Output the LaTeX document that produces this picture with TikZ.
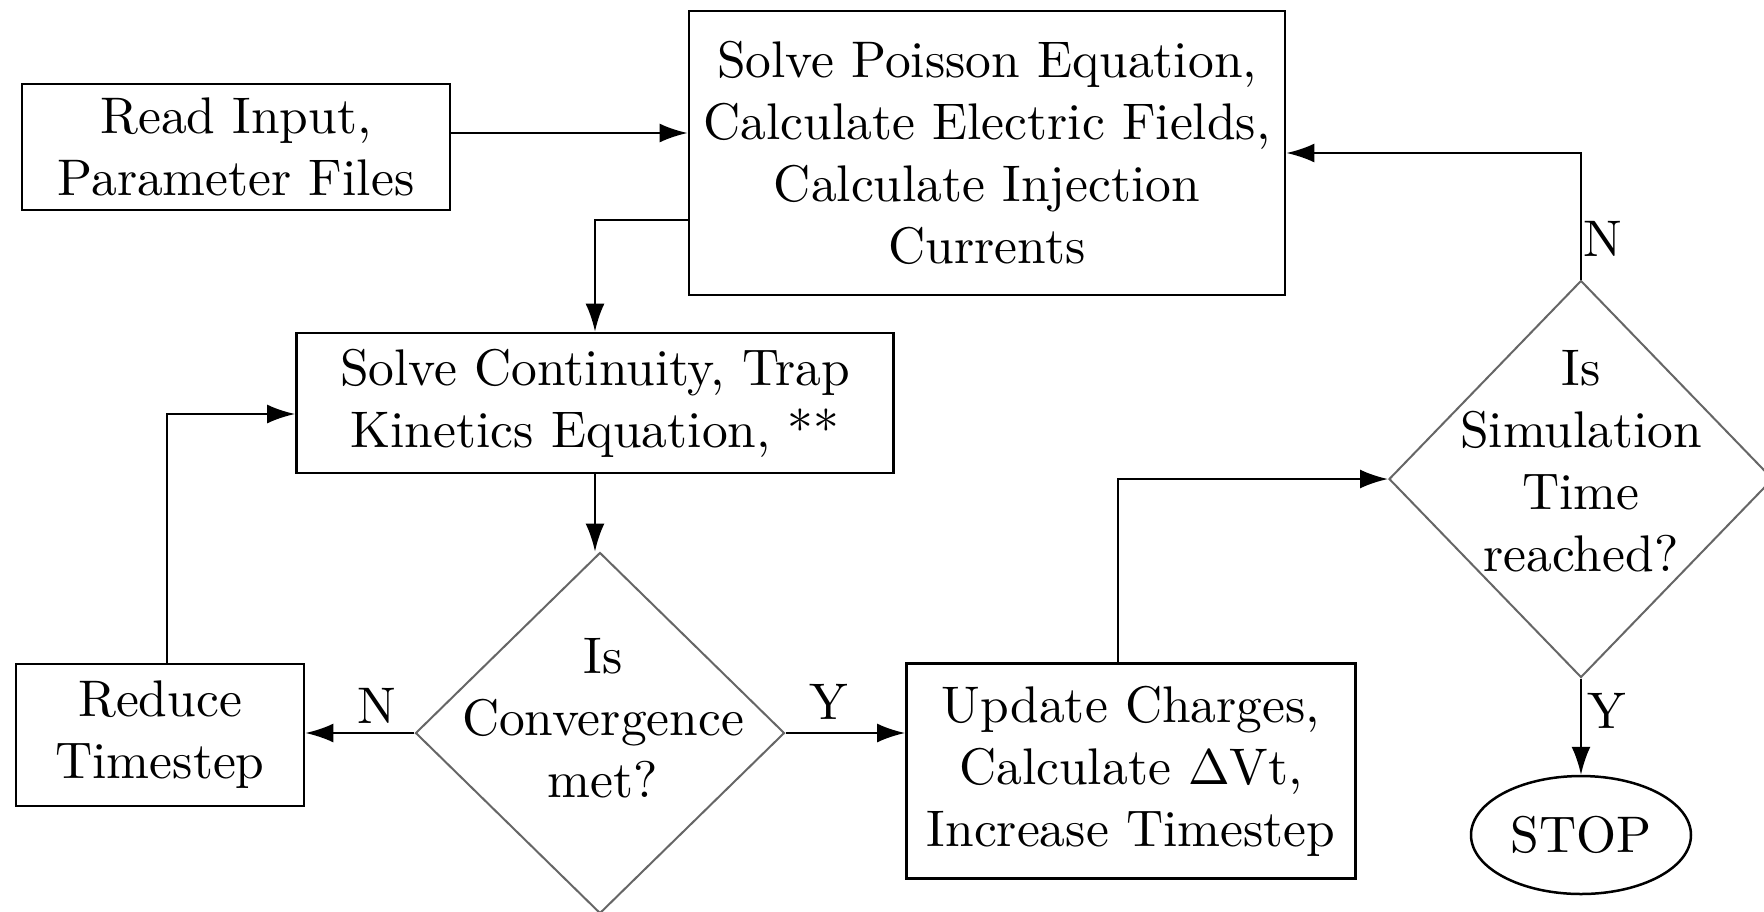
\documentclass[tikz,border=0pt]{standalone}
\usetikzlibrary{shapes.geometric,arrows.meta}
\begin{document}
\begin{tikzpicture}[x=0.2pt,y=-0.2pt,
  every node/.style={font=\fontsize{10.3}{12.4}\selectfont, align=center},
  box/.style={draw=black, line width=0.55pt, rectangle, inner sep=0pt},
  dia/.style={draw=black!60, line width=0.4pt, diamond, inner sep=0pt},
  oval/.style={draw=black, line width=0.5pt, ellipse, inner sep=0pt},
  arr/.style={draw=black, line width=0.47pt, -{Latex[length=5.6pt,width=3.8pt]}},
  lbl/.style={inner sep=0pt}]
\useasboundingbox (0,0) rectangle (1764,911);
\node[box, minimum width=85.6pt, minimum height=25.2pt] (read) at (236,147) {Read Input,\\Parameter Files};
\node[box, minimum width=119.2pt, minimum height=56.8pt] (poisson) at (987,153) {Solve Poisson Equation,\\Calculate Electric Fields,\\Calculate Injection\\Currents};
\node[box, minimum width=119.4pt, minimum height=28pt] (cont) at (595,403) {Solve Continuity, Trap\\Kinetics Equation, **};
\node[box, minimum width=57.6pt, minimum height=28.4pt] (reduce) at (160,735) {Reduce\\Timestep};
\node[box, minimum width=89.8pt, minimum height=43pt] (update) at (1131,771) {Update Charges,\\Calculate $\Delta$Vt,\\Increase Timestep};
\node[dia, minimum width=73.8pt, minimum height=72.2pt] (conv) at (600,733) {};
\node[lbl] (convt) at (603,718) {Is\\Convergence\\met?};
\node[dia, minimum width=76.8pt, minimum height=79.4pt] (sim) at (1581,479) {};
\node[lbl] (simt) at (1581,461) {Is\\Simulation\\Time\\reached?};
\node[oval, minimum width=44pt, minimum height=23.6pt] (stop) at (1581,835) {STOP};

\node[lbl] (nl) at (377,706) {N};
\node[lbl] (yl) at (829,702) {Y};
\node[lbl] (n2) at (1603,239) {N};
\node[lbl] (y2) at (1607,711) {Y};

\draw[arr] (read.east |- 0,133) -- (poisson.west |- 0,133);
\draw[arr] (poisson.west |- 0,220) -| (cont.north);
\draw[arr] (cont.south) -- (cont.south |- conv.north);
\draw[arr] (conv.west) -- (conv.west -| reduce.east);
\draw[arr] (conv.east) -- (conv.east -| update.west);
\draw[arr] (reduce.north -| 167,0) |- (cont.west |- 0,414);
\draw[arr] (update.north -| 1118,0) |- (sim.west);
\draw[arr] (sim.north) |- (poisson.east);
\draw[arr] (sim.south) -- (stop.north);
\end{tikzpicture}
\end{document}
